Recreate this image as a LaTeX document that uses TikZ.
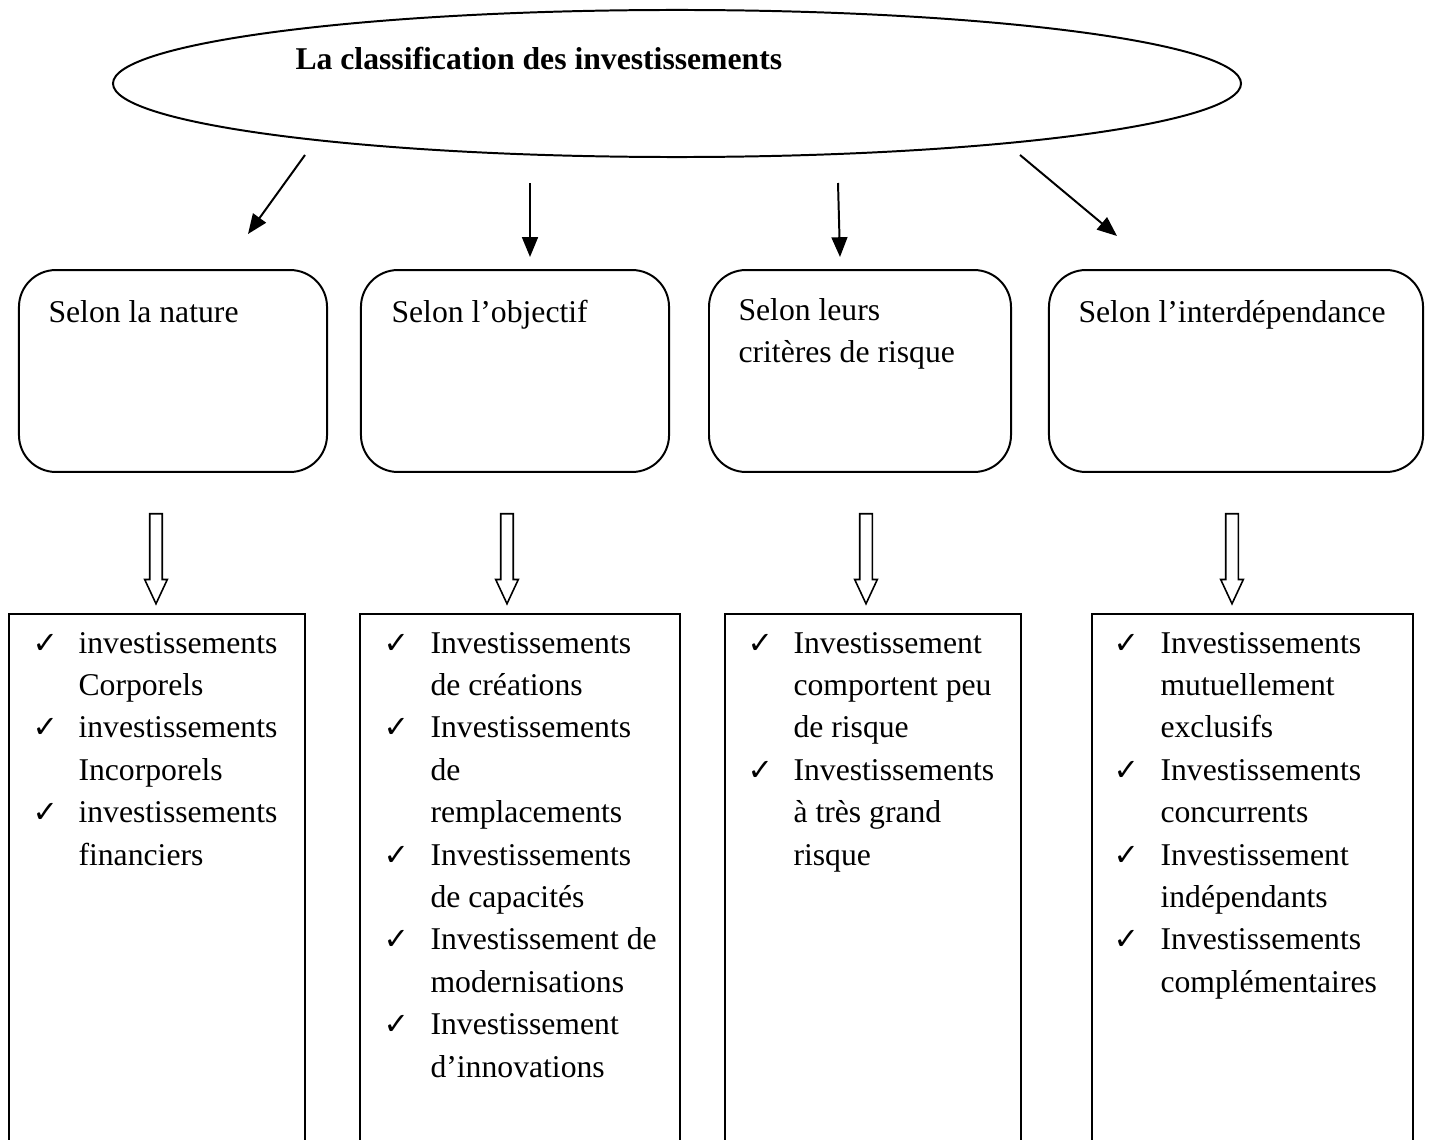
\documentclass[tikz,border=0pt]{standalone}
\usepackage{fontspec}
\setmainfont{Liberation Serif}
\newfontfamily\chkfont{DejaVu Sans}
\usetikzlibrary{shapes.geometric,shapes.arrows,arrows.meta}
\newcommand\mylines[1]{\vtop{\baselineskip=16.06pt\halign{##\hfil\cr#1\crcr}}}
\begin{document}
\begin{tikzpicture}[x=0.3788pt,y=-0.3788pt,
 every node/.style={font=\fontsize{12}{16.06}\selectfont},
 catbox/.style={draw,line width=0.75pt,rounded corners=14pt,minimum height=76.5pt,inner sep=0pt},
 listbox/.style={draw,line width=0.75pt,minimum height=222pt,inner sep=0pt},
 arr/.style={line width=0.75pt,-{Triangle[length=7.5pt,width=6pt]}},
 hol/.style={draw,line width=0.6pt,shape=single arrow,rotate=-90,minimum height=34.1pt,minimum width=7.95pt,inner xsep=0pt,inner ysep=2.08pt,single arrow head extend=1.9pt,single arrow tip angle=50},
 tick/.style={anchor=base west,inner sep=0pt,font=\chkfont\bfseries\fontsize{11.5}{12}\selectfont},
 item/.style={anchor=base west,inner sep=0pt},
]
\useasboundingbox (0,0) rectangle (1429,1139);

% top ellipse
\node[draw,ellipse,line width=0.75pt,minimum width=427.3pt,minimum height=55.7pt,inner sep=0pt] (ell) at (677,83.5) {};
\node[anchor=base west,inner sep=0pt,font=\bfseries\fontsize{12}{14}\selectfont] (title) at (295,70) {La classification des investissements};

% category boxes
\node[catbox,minimum width=116.7pt] (c1) at (173,371) {};
\node[catbox,minimum width=116.7pt] (c2) at (515,371) {};
\node[catbox,minimum width=114.4pt] (c3) at (860,371) {};
\node[catbox,minimum width=141.7pt] (c4) at (1236,371) {};
\node[item] (l1) at (48,322) {Selon la nature};
\node[item] (l2) at (391,322) {Selon l’objectif};
\node[item] (l3) at (738,320) {\mylines{Selon leurs\cr critères de risque}};
\node[item] (l4) at (1078,322) {Selon l’interdépendance};

% arrows from ellipse
\coordinate (a1s) at (305,155); \coordinate (a1e) at (248,234);
\coordinate (a2s) at (530,183); \coordinate (a2e) at (530,257);
\coordinate (a3s) at (838,183); \coordinate (a3e) at (840,257);
\coordinate (a4s) at (1020,155); \coordinate (a4e) at (1117,236);
\draw[arr] (a1s) -- (a1e);
\draw[arr] (a2s) -- (a2e);
\draw[arr] (a3s) -- (a3e);
\draw[arr] (a4s) -- (a4e);

% hollow arrows
\node[hol] (h1) at (156,552) {};
\node[hol] (h2) at (507,552) {};
\node[hol] (h3) at (866,552) {};
\node[hol] (h4) at (1232,552) {};

% list boxes (open at the bottom of the page)
\node[listbox,minimum width=112.1pt] (b1) at (157,907) {};
\node[listbox,minimum width=121.2pt] (b2) at (520,907) {};
\node[listbox,minimum width=112.1pt] (b3) at (873,907) {};
\node[listbox,minimum width=121.6pt] (b4) at (1252.5,907) {};

% box 1
\node[tick] (k11) at (32,653) {✓};
\node[item] (i11) at (78,653) {\mylines{investissements\cr Corporels}};
\node[tick] (k12) at (32,737.8) {✓};
\node[item] (i12) at (78,737.8) {\mylines{investissements\cr Incorporels}};
\node[tick] (k13) at (32,822.6) {✓};
\node[item] (i13) at (78,822.6) {\mylines{investissements\cr financiers}};

% box 2
\node[tick] (k21) at (383,653) {✓};
\node[item] (i21) at (430,653) {\mylines{Investissements\cr de créations}};
\node[tick] (k22) at (383,737.8) {✓};
\node[item] (i22) at (430,737.8) {\mylines{Investissements\cr de\cr remplacements}};
\node[tick] (k23) at (383,865) {✓};
\node[item] (i23) at (430,865) {\mylines{Investissements\cr de capacités}};
\node[tick] (k24) at (383,949.8) {✓};
\node[item] (i24) at (430,949.8) {\mylines{Investissement de\cr modernisations}};
\node[tick] (k25) at (383,1034.6) {✓};
\node[item] (i25) at (430,1034.6) {\mylines{Investissement\cr d’innovations}};

% box 3
\node[tick] (k31) at (747,653) {✓};
\node[item] (i31) at (793,653) {\mylines{Investissement\cr comportent peu\cr de risque}};
\node[tick] (k32) at (747,780.2) {✓};
\node[item] (i32) at (793,780.2) {\mylines{Investissements\cr à très grand\cr risque}};

% box 4
\node[tick] (k41) at (1113,653) {✓};
\node[item] (i41) at (1160,653) {\mylines{Investissements\cr mutuellement\cr exclusifs}};
\node[tick] (k42) at (1113,780.2) {✓};
\node[item] (i42) at (1160,780.2) {\mylines{Investissements\cr concurrents}};
\node[tick] (k43) at (1113,865) {✓};
\node[item] (i43) at (1160,865) {\mylines{Investissement\cr indépendants}};
\node[tick] (k44) at (1113,949.8) {✓};
\node[item] (i44) at (1160,949.8) {\mylines{Investissements\cr complémentaires}};
\end{tikzpicture}
\end{document}
